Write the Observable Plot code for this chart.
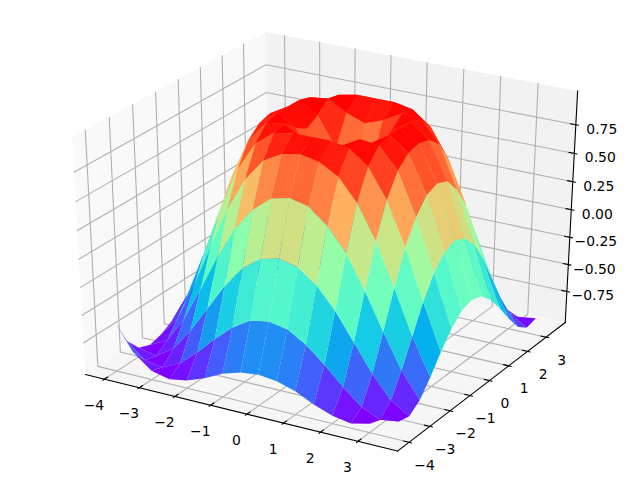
<!DOCTYPE html>
<html>
<head>
<meta charset="utf-8">
<script src="https://cdn.jsdelivr.net/npm/d3@7"></script>
<script src="https://cdn.jsdelivr.net/npm/@observablehq/plot@0.6"></script>
<style>
html,body{margin:0;padding:0;background:#fff}
svg{display:block}
</style>
</head>
<body>
<div id="chart"></div>
<script>
const xValues = [-4,-3.5,-3,-2.5,-2,-1.5,-1,-0.5,0,0.5,1,1.5,2,2.5,3,3.5];
const yValues = [-4,-3.5,-3,-2.5,-2,-1.5,-1,-0.5,0,0.5,1,1.5,2,2.5,3,3.5];
const zRows = [
 [-.59,-.83,-.96,-1,-.97,-.91,-.83,-.78,-.76,-.78,-.83,-.91,-.97,-1,-.96,-.83],
 [-.83,-.97,-.995,-.92,-.78,-.62,-.48,-.38,-.35,-.38,-.48,-.62,-.78,-.92,-.995,-.97],
 [-.96,-.995,-.89,-.69,-.45,-.21,-.02,.10,.14,.10,-.02,-.21,-.45,-.69,-.89,-.995],
 [-1,-.92,-.69,-.38,-.06,.23,.43,.56,.60,.56,.43,.23,-.06,-.38,-.69,-.92],
 [-.97,-.78,-.45,-.06,.31,.60,.79,.88,.91,.88,.79,.60,.31,-.06,-.45,-.78],
 [-.91,-.62,-.21,.23,.60,.85,.97,1,1,1,.97,.85,.60,.23,-.21,-.62],
 [-.83,-.48,-.02,.43,.79,.97,.99,.90,.84,.90,.99,.97,.79,.43,-.02,-.48],
 [-.78,-.38,.10,.56,.88,1,.90,.65,.48,.65,.90,1,.88,.56,.10,-.38],
 [-.76,-.35,.14,.60,.91,1,.84,.48,0,.48,.84,1,.91,.60,.14,-.35],
 [-.78,-.38,.10,.56,.88,1,.90,.65,.48,.65,.90,1,.88,.56,.10,-.38],
 [-.83,-.48,-.02,.43,.79,.97,.99,.90,.84,.90,.99,.97,.79,.43,-.02,-.48],
 [-.91,-.62,-.21,.23,.60,.85,.97,1,1,1,.97,.85,.60,.23,-.21,-.62],
 [-.97,-.78,-.45,-.06,.31,.60,.79,.88,.91,.88,.79,.60,.31,-.06,-.45,-.78],
 [-1,-.92,-.69,-.38,-.06,.23,.43,.56,.60,.56,.43,.23,-.06,-.38,-.69,-.92],
 [-.96,-.995,-.89,-.69,-.45,-.21,-.02,.10,.14,.10,-.02,-.21,-.45,-.69,-.89,-.995],
 [-.83,-.97,-.995,-.92,-.78,-.62,-.48,-.38,-.35,-.38,-.48,-.62,-.78,-.92,-.995,-.97]
];
const xTicks = [-4,-3,-2,-1,0,1,2,3];
const yTicks = [-4,-3,-2,-1,0,1,2,3];
const zTicks = [-0.75,-0.5,-0.25,0,0.25,0.5,0.75];
const xLim = [-4.375,3.875], yLim = [-4.375,3.875], zLim = [-1,1];
const elev = 30, azim = -60, dist = 10;
const dot=(a,b)=>a[0]*b[0]+a[1]*b[1]+a[2]*b[2];
const cross=(a,b)=>[a[1]*b[2]-a[2]*b[1],a[2]*b[0]-a[0]*b[2],a[0]*b[1]-a[1]*b[0]];
const unit=a=>{const n=Math.hypot(...a);return a.map(v=>v/n)};
const el=elev*Math.PI/180, az=azim*Math.PI/180;
const E=[.5+dist*Math.cos(el)*Math.cos(az),.5+dist*Math.cos(el)*Math.sin(az),.5+dist*Math.sin(el)];
const n=unit([E[0]-.5,E[1]-.5,E[2]-.5]);
const u=unit(cross([0,0,1],n)), v=unit(cross(n,u));
function proj(x,y,z){
  const p=[(x-xLim[0])/(xLim[1]-xLim[0])-E[0],(y-yLim[0])/(yLim[1]-yLim[0])-E[1],(z-zLim[0])/(zLim[1]-zLim[0])-E[2]];
  const w=-dot(n,p);
  return {px:dot(u,p)/w,py:dot(v,p)/w,d:-dist/w};
}
const pad=a=>{const d=(a[1]-a[0])/48;return [a[0]-d,a[1]+d]};
const [x0,x1]=pad(xLim),[y0,y1]=pad(yLim),[z0,z1]=pad(zLim);
const dx=(x1-x0)/12, dy=(y1-y0)/12;
function path(rows,props){return rows.map((q,i)=>{const r=proj(...q);return {...props,x:r.px,y:r.py,d:r.d,order:i}})}
const panes=[
  ...path([[x0,y0,z0],[x1,y0,z0],[x1,y1,z0],[x0,y1,z0]],{id:"bottom"}),
  ...path([[x0,y0,z0],[x0,y1,z0],[x0,y1,z1],[x0,y0,z1]],{id:"left"}),
  ...path([[x0,y1,z0],[x1,y1,z0],[x1,y1,z1],[x0,y1,z1]],{id:"back"})
];
const grid=[];
xTicks.forEach(t=>grid.push(...path([[t,y0,z0],[t,y1,z0],[t,y1,z1]],{id:"x"+t})));
yTicks.forEach(t=>grid.push(...path([[x1,t,z0],[x0,t,z0],[x0,t,z1]],{id:"y"+t})));
zTicks.forEach(t=>grid.push(...path([[x1,y1,t],[x0,y1,t],[x0,y0,t]],{id:"z"+t})));
const axes=[
  ...path([[x0,y0,z0],[x1,y0,z0]],{id:"ax"}),
  ...path([[x1,y0,z0],[x1,y1,z0]],{id:"ay"}),
  ...path([[x1,y1,z0],[x1,y1,z1]],{id:"az"})
];
xTicks.forEach(t=>axes.push(...path([[t,y0-.1*dy,z0],[t,y0+.2*dy,z0]],{id:"tx"+t})));
yTicks.forEach(t=>axes.push(...path([[x1+.1*dx,t,z0],[x1-.2*dx,t,z0]],{id:"ty"+t})));
zTicks.forEach(t=>axes.push(...path([[x1+.1*dx,y1,t],[x1-.2*dx,y1,t]],{id:"tz"+t})));
const minus=s=>s.replace("-","\u2212");
const xLabels=xTicks.map(t=>{const r=proj(t,y0,z0);return {x:r.px,y:r.py,s:minus(String(t))}});
const yLabels=yTicks.map(t=>{const r=proj(x1,t,z0);return {x:r.px,y:r.py,s:minus(String(t))}});
const zLabels=zTicks.map(t=>{const r=proj(x1,y1,t);return {x:r.px,y:r.py,s:minus(t.toFixed(2))}});
// each closed cell repeats its first corner, as the original surface routine does,
// so that corner counts twice in the colour value and in the depth order
const cells=[];
for(let i=0;i<xValues.length-1;i++)for(let j=0;j<yValues.length-1;j++){
  const c=[[i,j],[i+1,j],[i+1,j+1],[i,j+1],[i,j]];
  const pts=c.map(([a,b])=>proj(xValues[a],yValues[b],zRows[a][b]));
  cells.push({id:i+"-"+j,pts,depth:d3.mean(pts,p=>p.d),avg:d3.mean(c,([a,b])=>zRows[a][b])});
}
cells.sort((a,b)=>b.depth-a.depth);
const surface=cells.flatMap(c=>c.pts.map(p=>({id:c.id,x:p.px,y:p.py,avg:c.avg})));
const rainbow=t=>{
  const r=Math.min(1,Math.abs(2*t-.5)),g=Math.sin(Math.PI*t),b=Math.cos(Math.PI*t/2);
  return `rgb(${Math.round(r*255)},${Math.round(g*255)},${Math.round(b*255)})`;
};
const lineOpts={x:"x",y:"y",z:"id"};
const text=(data,o)=>Plot.text(data,{x:"x",y:"y",text:"s",fontSize:13.9,fontFamily:"DejaVu Sans",fill:"#000",...o});
const chart=Plot.plot({
  width:640,height:480,margin:0,
  style:{background:"#fff"},
  x:{domain:[-0.095,0.09],range:[0,640],axis:null},
  y:{domain:[-0.095,0.09],range:[480,0],axis:null},
  color:{type:"linear",domain:d3.extent(cells,c=>c.avg),interpolate:rainbow,legend:false},
  marks:[
    Plot.line(panes.filter(d=>d.id==="bottom"),{...lineOpts,fill:"#f6f6f6",stroke:"none"}),
    Plot.line(panes.filter(d=>d.id==="left"),{...lineOpts,fill:"#f9f9f9",stroke:"none"}),
    Plot.line(panes.filter(d=>d.id==="back"),{...lineOpts,fill:"#f2f2f2",stroke:"none"}),
    Plot.line(grid,{...lineOpts,stroke:"#b0b0b0",strokeWidth:1.1}),
    Plot.line(axes,{...lineOpts,stroke:"#000",strokeWidth:1.1}),
    Plot.line(surface,{...lineOpts,fill:"avg",stroke:"none"}),
    text(xLabels,{dx:-10.5,dy:26}),
    text(yLabels,{dx:15.5,dy:23}),
    text(zLabels,{dx:26,dy:4.5})
  ]
});
document.getElementById("chart").appendChild(chart);
</script>
</body>
</html>
